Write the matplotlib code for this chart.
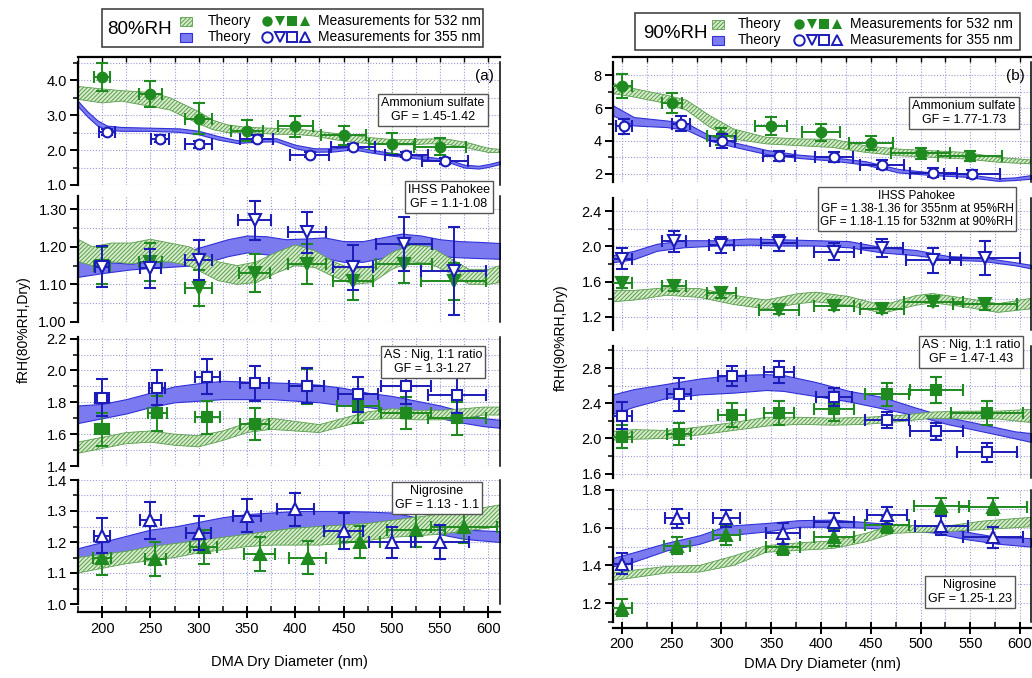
import matplotlib
matplotlib.use('Agg')
import matplotlib.pyplot as plt
from matplotlib.ticker import MultipleLocator, FormatStrFormatter
from matplotlib.patches import Rectangle

plt.rcParams['font.family'] = ['Liberation Sans', 'DejaVu Sans']
plt.rcParams['hatch.linewidth'] = 0.7

# ------------------------------------------------------------------ DATA
# ---- (a) 80%RH ----
# Ammonium sulfate
L_AS_g_x = [200, 250, 300, 350, 400, 450, 500, 550]
L_AS_g_y = [4.10, 3.60, 2.90, 2.55, 2.68, 2.42, 2.18, 2.10]
L_AS_g_ye = [0.40, 0.38, 0.45, 0.30, 0.30, 0.28, 0.30, 0.25]
L_AS_g_xe = [8, 12, 14, 17, 18, 23, 24, 27]
L_AS_b_x = [205, 260, 300, 360, 415, 460, 515, 555]
L_AS_b_y = [2.52, 2.33, 2.17, 2.32, 1.87, 2.08, 1.87, 1.68]
L_AS_b_ye = [0.08, 0.09, 0.10, 0.10, 0.08, 0.09, 0.08, 0.08]
L_AS_b_xe = [8, 9, 14, 17, 20, 23, 22, 24]
L_AS_gt_x = [175, 200, 220, 250, 270, 285, 300, 315, 330, 350, 380, 400, 420, 440, 460, 480, 500, 520, 540, 560, 580, 600, 612]
L_AS_gt_hi = [3.82, 3.75, 3.70, 3.65, 3.50, 3.30, 3.10, 2.85, 2.72, 2.65, 2.62, 2.60, 2.55, 2.48, 2.42, 2.35, 2.30, 2.30, 2.32, 2.30, 2.20, 2.05, 2.02]
L_AS_gt_lo = [3.45, 3.35, 3.40, 3.25, 3.15, 2.95, 2.75, 2.58, 2.50, 2.50, 2.45, 2.45, 2.40, 2.30, 2.22, 2.18, 2.15, 2.15, 2.18, 2.15, 2.05, 1.93, 1.93]
L_AS_bt_x = [175, 185, 195, 205, 220, 250, 280, 300, 320, 340, 360, 380, 400, 420, 440, 460, 480, 500, 520, 540, 560, 575, 590, 600, 612]
L_AS_bt_hi = [3.40, 3.10, 2.85, 2.70, 2.66, 2.64, 2.62, 2.55, 2.40, 2.28, 2.32, 2.34, 2.15, 2.05, 2.05, 2.10, 2.00, 1.92, 1.86, 1.80, 1.72, 1.58, 1.55, 1.60, 1.68]
L_AS_bt_lo = [3.25, 2.95, 2.70, 2.58, 2.55, 2.55, 2.52, 2.45, 2.30, 2.20, 2.24, 2.25, 2.05, 1.95, 1.96, 2.02, 1.92, 1.84, 1.78, 1.72, 1.64, 1.50, 1.47, 1.52, 1.60]

# IHSS Pahokee
L_IH_g_x = [200, 250, 300, 358, 412, 460, 513, 564]
L_IH_g_y = [1.150, 1.160, 1.090, 1.130, 1.155, 1.108, 1.155, 1.108]
L_IH_g_ye = [0.050, 0.050, 0.048, 0.050, 0.053, 0.050, 0.050, 0.050]
L_IH_g_xe = [8, 12, 14, 16, 20, 21, 29, 34]
L_IH_b_x = [200, 250, 300, 358, 412, 460, 513, 564]
L_IH_b_y = [1.147, 1.143, 1.165, 1.270, 1.238, 1.145, 1.208, 1.135]
L_IH_b_ye = [0.055, 0.052, 0.053, 0.052, 0.055, 0.060, 0.072, 0.117]
L_IH_b_xe = [7, 11, 14, 17, 20, 21, 29, 34]
L_IH_gt_x = [175, 190, 210, 230, 250, 270, 290, 305, 320, 340, 360, 380, 400, 420, 440, 460, 480, 500, 520, 540, 560, 580, 600, 612]
L_IH_gt_hi = [1.22, 1.20, 1.21, 1.21, 1.22, 1.21, 1.20, 1.18, 1.16, 1.15, 1.16, 1.185, 1.205, 1.19, 1.16, 1.14, 1.15, 1.185, 1.205, 1.20, 1.17, 1.14, 1.14, 1.15]
L_IH_gt_lo = [1.16, 1.15, 1.16, 1.155, 1.16, 1.16, 1.15, 1.13, 1.11, 1.10, 1.105, 1.13, 1.15, 1.145, 1.12, 1.10, 1.105, 1.14, 1.16, 1.155, 1.13, 1.10, 1.10, 1.105]
L_IH_bt_x = [175, 200, 230, 260, 290, 310, 330, 350, 370, 390, 410, 430, 450, 470, 490, 510, 530, 550, 570, 590, 612]
L_IH_bt_hi = [1.16, 1.16, 1.155, 1.165, 1.19, 1.205, 1.22, 1.23, 1.228, 1.22, 1.222, 1.225, 1.215, 1.215, 1.225, 1.235, 1.23, 1.22, 1.215, 1.213, 1.21]
L_IH_bt_lo = [1.12, 1.13, 1.14, 1.145, 1.15, 1.16, 1.175, 1.185, 1.18, 1.17, 1.172, 1.17, 1.16, 1.16, 1.17, 1.185, 1.18, 1.175, 1.172, 1.17, 1.168]

# AS : Nig 1:1
L_AN_g_x = [200, 257, 309, 358, 412, 465, 515, 567]
L_AN_g_y = [1.63, 1.73, 1.705, 1.665, 1.90, 1.775, 1.735, 1.70]
L_AN_g_ye = [0.105, 0.11, 0.105, 0.10, 0.11, 0.105, 0.10, 0.105]
L_AN_g_xe = [7, 10, 13, 15, 18, 22, 26, 30]
L_AN_b_x = [200, 257, 309, 358, 412, 465, 515, 567]
L_AN_b_y = [1.83, 1.89, 1.96, 1.92, 1.905, 1.85, 1.905, 1.845]
L_AN_b_ye = [0.115, 0.11, 0.11, 0.11, 0.11, 0.11, 0.115, 0.11]
L_AN_b_xe = [7, 8, 13, 15, 18, 21, 26, 30]
L_AN_gt_x = [175, 200, 225, 250, 275, 300, 325, 350, 375, 400, 425, 450, 475, 500, 525, 550, 575, 595, 612]
L_AN_gt_hi = [1.55, 1.58, 1.61, 1.62, 1.60, 1.59, 1.62, 1.67, 1.70, 1.68, 1.66, 1.70, 1.74, 1.76, 1.75, 1.75, 1.76, 1.77, 1.77]
L_AN_gt_lo = [1.48, 1.51, 1.54, 1.55, 1.53, 1.52, 1.56, 1.61, 1.63, 1.62, 1.61, 1.65, 1.69, 1.70, 1.69, 1.69, 1.70, 1.72, 1.72]
L_AN_bt_x = [175, 200, 225, 250, 275, 300, 325, 350, 375, 400, 425, 450, 475, 500, 525, 550, 575, 595, 612]
L_AN_bt_hi = [1.78, 1.79, 1.82, 1.86, 1.90, 1.92, 1.935, 1.93, 1.925, 1.92, 1.91, 1.89, 1.86, 1.84, 1.81, 1.78, 1.74, 1.70, 1.69]
L_AN_bt_lo = [1.67, 1.70, 1.73, 1.77, 1.80, 1.81, 1.82, 1.82, 1.82, 1.81, 1.80, 1.78, 1.77, 1.75, 1.73, 1.70, 1.67, 1.65, 1.64]

# Nigrosine
L_NG_g_x = [200, 255, 305, 363, 413, 467, 525, 575]
L_NG_g_y = [1.15, 1.145, 1.185, 1.16, 1.15, 1.20, 1.24, 1.25]
L_NG_g_ye = [0.055, 0.055, 0.055, 0.055, 0.052, 0.052, 0.055, 0.052]
L_NG_g_xe = [9, 11, 14, 16, 19, 21, 30, 34]
L_NG_b_x = [200, 250, 300, 350, 400, 450, 500, 550]
L_NG_b_y = [1.22, 1.27, 1.23, 1.285, 1.305, 1.235, 1.20, 1.20]
L_NG_b_ye = [0.057, 0.06, 0.055, 0.053, 0.053, 0.058, 0.05, 0.055]
L_NG_b_xe = [8, 11, 13, 15, 19, 20, 24, 30]
L_NG_gt_x = [175, 200, 225, 250, 275, 300, 325, 350, 375, 400, 425, 450, 475, 500, 525, 550, 575, 612]
L_NG_gt_hi = [1.15, 1.16, 1.17, 1.185, 1.195, 1.205, 1.215, 1.225, 1.235, 1.245, 1.25, 1.255, 1.26, 1.27, 1.28, 1.29, 1.30, 1.32]
L_NG_gt_lo = [1.10, 1.115, 1.13, 1.14, 1.15, 1.165, 1.175, 1.185, 1.19, 1.19, 1.19, 1.195, 1.205, 1.215, 1.22, 1.225, 1.235, 1.25]
L_NG_bt_x = [175, 200, 225, 250, 275, 300, 325, 350, 375, 400, 425, 450, 475, 500, 525, 550, 575, 612]
L_NG_bt_hi = [1.18, 1.20, 1.22, 1.24, 1.25, 1.265, 1.28, 1.29, 1.295, 1.30, 1.30, 1.30, 1.298, 1.295, 1.28, 1.255, 1.24, 1.235]
L_NG_bt_lo = [1.14, 1.155, 1.165, 1.18, 1.19, 1.20, 1.21, 1.22, 1.235, 1.245, 1.25, 1.255, 1.255, 1.25, 1.24, 1.225, 1.21, 1.20]

# ---- (b) 90%RH ----
R_AS_g_x = [200, 250, 300, 350, 400, 450, 500, 550]
R_AS_g_y = [7.33, 6.30, 4.27, 4.90, 4.53, 3.86, 3.24, 3.06]
R_AS_g_ye = [0.75, 0.63, 0.50, 0.56, 0.52, 0.41, 0.35, 0.30]
R_AS_g_xe = [10, 10, 15, 16, 19, 22, 30, 32]
R_AS_b_x = [202, 259, 301, 358, 413, 461, 513, 552]
R_AS_b_y = [4.90, 5.04, 4.00, 3.10, 3.00, 2.55, 2.06, 1.98]
R_AS_b_ye = [0.46, 0.45, 0.45, 0.30, 0.30, 0.27, 0.27, 0.23]
R_AS_b_xe = [8, 9, 13, 16, 19, 22, 24, 28]
R_AS_gt_x = [191, 212, 245, 265, 288, 312, 345, 378, 412, 445, 478, 512, 545, 578, 611]
R_AS_gt_hi = [7.50, 7.18, 6.78, 6.47, 5.55, 4.73, 4.22, 4.12, 4.10, 3.70, 3.50, 3.40, 3.30, 3.00, 2.84]
R_AS_gt_lo = [6.88, 6.67, 6.27, 5.86, 4.84, 4.12, 3.82, 3.71, 3.60, 3.30, 3.10, 3.00, 2.90, 2.70, 2.60]
R_AS_bt_x = [191, 212, 245, 265, 288, 312, 345, 378, 412, 445, 478, 512, 545, 578, 595, 611]
R_AS_bt_hi = [6.16, 5.45, 5.24, 5.08, 4.33, 3.92, 3.45, 3.16, 3.00, 2.76, 2.29, 2.08, 1.98, 1.73, 1.78, 1.92]
R_AS_bt_lo = [5.55, 4.94, 4.84, 4.67, 4.02, 3.65, 3.20, 2.96, 2.80, 2.55, 2.08, 1.92, 1.82, 1.57, 1.62, 1.70]

R_IH_g_x = [200, 252, 300, 358, 413, 461, 513, 565]
R_IH_g_y = [1.58, 1.55, 1.47, 1.28, 1.32, 1.29, 1.37, 1.34]
R_IH_g_ye = [0.055, 0.06, 0.06, 0.05, 0.045, 0.05, 0.05, 0.06]
R_IH_g_xe = [10, 12, 15, 20, 20, 22, 30, 32]
R_IH_b_x = [200, 252, 300, 358, 413, 461, 513, 565]
R_IH_b_y = [1.86, 2.06, 2.02, 2.04, 1.94, 1.98, 1.84, 1.87]
R_IH_b_ye = [0.12, 0.12, 0.09, 0.09, 0.10, 0.105, 0.14, 0.195]
R_IH_b_xe = [10, 12, 13, 18, 20, 21, 28, 35]
R_IH_gt_x = [191, 212, 245, 278, 312, 345, 378, 395, 428, 462, 495, 512, 545, 578, 611]
R_IH_gt_hi = [1.50, 1.50, 1.53, 1.52, 1.445, 1.39, 1.465, 1.48, 1.43, 1.33, 1.44, 1.465, 1.41, 1.35, 1.41]
R_IH_gt_lo = [1.37, 1.39, 1.445, 1.42, 1.34, 1.29, 1.35, 1.37, 1.33, 1.24, 1.33, 1.36, 1.31, 1.25, 1.29]
R_IH_bt_x = [191, 212, 235, 262, 295, 328, 362, 395, 428, 462, 495, 528, 562, 595, 611]
R_IH_bt_hi = [1.90, 1.95, 2.03, 2.07, 2.07, 2.09, 2.08, 2.07, 2.06, 1.99, 1.96, 1.89, 1.875, 1.82, 1.79]
R_IH_bt_lo = [1.82, 1.855, 1.95, 1.99, 2.01, 2.02, 2.01, 2.01, 1.99, 1.93, 1.90, 1.85, 1.835, 1.785, 1.75]

R_AN_g_x = [200, 257, 311, 358, 413, 466, 516, 567]
R_AN_g_y = [2.02, 2.05, 2.27, 2.29, 2.33, 2.50, 2.55, 2.29]
R_AN_g_ye = [0.13, 0.13, 0.135, 0.14, 0.13, 0.13, 0.145, 0.14]
R_AN_g_xe = [10, 12, 14, 15, 20, 22, 27, 36]
R_AN_b_x = [200, 257, 311, 358, 413, 466, 516, 567]
R_AN_b_y = [2.26, 2.50, 2.71, 2.75, 2.47, 2.21, 2.08, 1.84]
R_AN_b_ye = [0.15, 0.19, 0.115, 0.125, 0.10, 0.095, 0.095, 0.105]
R_AN_b_xe = [10, 12, 14, 15, 18, 22, 27, 30]
R_AN_gt_x = [191, 212, 245, 278, 312, 345, 378, 412, 445, 478, 512, 545, 578, 611]
R_AN_gt_hi = [2.08, 2.10, 2.09, 2.13, 2.18, 2.24, 2.24, 2.23, 2.24, 2.26, 2.30, 2.31, 2.31, 2.33]
R_AN_gt_lo = [1.98, 1.99, 2.00, 2.04, 2.09, 2.14, 2.16, 2.15, 2.16, 2.19, 2.23, 2.22, 2.22, 2.18]
R_AN_bt_x = [191, 212, 245, 278, 312, 345, 362, 395, 428, 462, 495, 528, 562, 595, 611]
R_AN_bt_hi = [2.50, 2.56, 2.62, 2.68, 2.72, 2.73, 2.72, 2.64, 2.54, 2.47, 2.35, 2.24, 2.16, 2.08, 2.06]
R_AN_bt_lo = [2.28, 2.36, 2.46, 2.50, 2.52, 2.55, 2.54, 2.48, 2.42, 2.34, 2.26, 2.16, 2.08, 2.00, 1.96]

R_NG_g_x = [200, 255, 305, 362, 413, 466, 521, 573]
R_NG_g_y = [1.175, 1.505, 1.56, 1.50, 1.55, 1.615, 1.715, 1.71]
R_NG_g_ye = [0.045, 0.045, 0.05, 0.045, 0.045, 0.045, 0.04, 0.045]
R_NG_g_xe = [10, 13, 14, 17, 20, 22, 28, 34]
R_NG_b_x = [200, 255, 305, 362, 413, 466, 521, 573]
R_NG_b_y = [1.41, 1.65, 1.65, 1.57, 1.63, 1.665, 1.61, 1.55]
R_NG_b_ye = [0.055, 0.05, 0.045, 0.055, 0.05, 0.045, 0.05, 0.055]
R_NG_b_xe = [10, 12, 14, 17, 20, 20, 27, 30]
R_NG_gt_x = [191, 212, 245, 278, 312, 345, 378, 412, 445, 472, 495, 528, 562, 611]
R_NG_gt_hi = [1.36, 1.375, 1.395, 1.40, 1.45, 1.505, 1.52, 1.53, 1.57, 1.615, 1.61, 1.61, 1.635, 1.655]
R_NG_gt_lo = [1.32, 1.335, 1.36, 1.365, 1.40, 1.47, 1.48, 1.49, 1.525, 1.57, 1.575, 1.58, 1.59, 1.605]
R_NG_bt_x = [191, 212, 245, 278, 305, 345, 378, 412, 445, 478, 512, 545, 578, 611]
R_NG_bt_hi = [1.44, 1.47, 1.52, 1.56, 1.61, 1.625, 1.64, 1.643, 1.63, 1.615, 1.61, 1.58, 1.55, 1.545]
R_NG_bt_lo = [1.395, 1.42, 1.48, 1.515, 1.56, 1.58, 1.605, 1.605, 1.60, 1.59, 1.575, 1.54, 1.515, 1.50]

X_TICKS = [200, 250, 300, 350, 400, 450, 500, 550, 600]
SAMPLE_LABELS_L = ["Ammonium sulfate\nGF = 1.45-1.42", "IHSS Pahokee\nGF = 1.1-1.08",
                   "AS : Nig, 1:1 ratio\nGF = 1.3-1.27", "Nigrosine\nGF = 1.13 - 1.1"]
SAMPLE_LABELS_R = ["Ammonium sulfate\nGF = 1.77-1.73",
                   "IHSS Pahokee\nGF = 1.38-1.36 for 355nm at 95%RH\nGF = 1.18-1.15 for 532nm at 90%RH",
                   "AS : Nig, 1:1 ratio\nGF = 1.47-1.43", "Nigrosine\nGF = 1.25-1.23"]

# ------------------------------------------------------------------ STYLE
W, H = 1032, 678
fig = plt.figure(figsize=(W / 100, H / 100), dpi=100)

GREEN = '#1f8a1f'
BLUE = '#1c1cb8'
BB_FACE = '#7b7bef'
BB_EDGE = '#3030d8'
GB_FACE = '#d6ecca'
GB_EDGE = '#5a9e4e'
GRID = '#9a9ad4'
MARKERS = ['o', 'v', 's', '^']


def add_ax(x0, x1, ytop, ybot):
    return fig.add_axes([x0 / W, 1 - ybot / H, (x1 - x0) / W, (ybot - ytop) / H])


def style(ax, xlim, ylim, ymaj, ymin, yfmt):
    ax.set_xlim(*xlim)
    ax.set_ylim(*ylim)
    ax.xaxis.set_major_locator(MultipleLocator(50))
    ax.xaxis.set_minor_locator(MultipleLocator(25))
    ax.yaxis.set_major_locator(MultipleLocator(ymaj))
    ax.yaxis.set_minor_locator(MultipleLocator(ymin))
    ax.yaxis.set_major_formatter(FormatStrFormatter(yfmt))
    ax.grid(True, which='both', color=GRID, linestyle=(0, (1, 1.6)), linewidth=0.8)
    ax.set_axisbelow(True)
    ax.spines['top'].set_visible(False)
    ax.spines['bottom'].set_visible(False)
    ax.spines['left'].set_linewidth(1.6)
    ax.spines['right'].set_linewidth(1.1)
    ax.tick_params(axis='y', which='major', direction='out', length=6, width=1.4,
                   labelsize=10.5, pad=2, right=False)
    ax.tick_params(axis='y', which='minor', direction='out', length=3.5, width=1.1, right=False)
    ax.tick_params(axis='x', which='both', bottom=False, top=False,
                   labelbottom=False, labeltop=False)


def band(ax, x, lo, hi, green):
    if green:
        ax.fill_between(x, lo, hi, facecolor=GB_FACE, edgecolor=GB_EDGE,
                        hatch='////////', linewidth=0.6, zorder=2.2)
    else:
        ax.fill_between(x, lo, hi, facecolor=BB_FACE, edgecolor=BB_EDGE,
                        linewidth=0.8, zorder=2.0)


def meas(ax, x, y, ye, xe, marker, green):
    c = GREEN if green else BLUE
    ms = {'o': 7, 'v': 8, 's': 7, '^': 8}[marker]
    ax.errorbar(x, y, yerr=ye, xerr=xe, fmt=marker, color=c, ecolor=c,
                mfc=c if green else 'white', mec=c, ms=ms, mew=1.5,
                elinewidth=1.4, capsize=4, capthick=1.4,
                zorder=3 if green else 4)


def panel(x0, x1, xlim, rows, ylims, ymajs, ymins, yfmts, data, xaxis_off):
    axes = []
    for i, (r, yl, ma, mi, fm, d) in enumerate(zip(rows, ylims, ymajs, ymins, yfmts, data)):
        ax = add_ax(x0, x1, r[0], r[1])
        style(ax, xlim, yl, ma, mi, fm)
        gx, glo, ghi, bx, blo, bhi, gm, bm = d
        band(ax, bx, blo, bhi, False)
        band(ax, gx, glo, ghi, True)
        meas(ax, *gm, MARKERS[i], True)
        meas(ax, *bm, MARKERS[i], False)
        axes.append(ax)
    top = axes[0]
    top.spines['top'].set_visible(True)
    top.spines['top'].set_position(('outward', 3.5))
    top.spines['top'].set_linewidth(1.6)
    top.tick_params(axis='x', which='both', top=True, direction='in', length=3.5, width=1.0)
    bot = axes[-1]
    bot.spines['bottom'].set_visible(True)
    bot.spines['bottom'].set_position(('outward', xaxis_off))
    bot.spines['bottom'].set_linewidth(1.6)
    bot.set_xticks(X_TICKS)
    bot.xaxis.set_major_formatter(FormatStrFormatter('%d'))
    bot.tick_params(axis='x', which='major', bottom=True, labelbottom=True, direction='inout',
                    length=8, width=1.4, labelsize=10.5, pad=3)
    bot.tick_params(axis='x', which='minor', bottom=True, direction='in', length=4, width=1.1)
    return axes


L_DATA = [
    (L_AS_gt_x, L_AS_gt_lo, L_AS_gt_hi, L_AS_bt_x, L_AS_bt_lo, L_AS_bt_hi,
     (L_AS_g_x, L_AS_g_y, L_AS_g_ye, L_AS_g_xe), (L_AS_b_x, L_AS_b_y, L_AS_b_ye, L_AS_b_xe)),
    (L_IH_gt_x, L_IH_gt_lo, L_IH_gt_hi, L_IH_bt_x, L_IH_bt_lo, L_IH_bt_hi,
     (L_IH_g_x, L_IH_g_y, L_IH_g_ye, L_IH_g_xe), (L_IH_b_x, L_IH_b_y, L_IH_b_ye, L_IH_b_xe)),
    (L_AN_gt_x, L_AN_gt_lo, L_AN_gt_hi, L_AN_bt_x, L_AN_bt_lo, L_AN_bt_hi,
     (L_AN_g_x, L_AN_g_y, L_AN_g_ye, L_AN_g_xe), (L_AN_b_x, L_AN_b_y, L_AN_b_ye, L_AN_b_xe)),
    (L_NG_gt_x, L_NG_gt_lo, L_NG_gt_hi, L_NG_bt_x, L_NG_bt_lo, L_NG_bt_hi,
     (L_NG_g_x, L_NG_g_y, L_NG_g_ye, L_NG_g_xe), (L_NG_b_x, L_NG_b_y, L_NG_b_ye, L_NG_b_xe)),
]
R_DATA = [
    (R_AS_gt_x, R_AS_gt_lo, R_AS_gt_hi, R_AS_bt_x, R_AS_bt_lo, R_AS_bt_hi,
     (R_AS_g_x, R_AS_g_y, R_AS_g_ye, R_AS_g_xe), (R_AS_b_x, R_AS_b_y, R_AS_b_ye, R_AS_b_xe)),
    (R_IH_gt_x, R_IH_gt_lo, R_IH_gt_hi, R_IH_bt_x, R_IH_bt_lo, R_IH_bt_hi,
     (R_IH_g_x, R_IH_g_y, R_IH_g_ye, R_IH_g_xe), (R_IH_b_x, R_IH_b_y, R_IH_b_ye, R_IH_b_xe)),
    (R_AN_gt_x, R_AN_gt_lo, R_AN_gt_hi, R_AN_bt_x, R_AN_bt_lo, R_AN_bt_hi,
     (R_AN_g_x, R_AN_g_y, R_AN_g_ye, R_AN_g_xe), (R_AN_b_x, R_AN_b_y, R_AN_b_ye, R_AN_b_xe)),
    (R_NG_gt_x, R_NG_gt_lo, R_NG_gt_hi, R_NG_bt_x, R_NG_bt_lo, R_NG_bt_hi,
     (R_NG_g_x, R_NG_g_y, R_NG_g_ye, R_NG_g_xe), (R_NG_b_x, R_NG_b_y, R_NG_b_ye, R_NG_b_xe)),
]

panel(78, 500, (175, 612), [(62, 185), (196, 322), (337, 466), (480, 604)],
      [(1.0, 4.52), (1.0, 1.335), (1.4, 2.21), (1.0, 1.4)],
      [1.0, 0.1, 0.2, 0.1], [0.5, 0.05, 0.1, 0.05], ['%.1f', '%.2f', '%.1f', '%.1f'],
      L_DATA, 6)
panel(613, 1031, (191, 611), [(62, 182), (198, 330), (346, 478), (490, 622)],
      [(1.5, 8.8), (1.05, 2.55), (1.55, 3.05), (1.1, 1.8)],
      [2, 0.4, 0.4, 0.2], [1, 0.2, 0.2, 0.1], ['%d', '%.1f', '%.1f', '%.1f'],
      R_DATA, 4)

# ------------------------------------------------------------------ OVERLAY
ov = fig.add_axes([0, 0, 1, 1], zorder=10)
ov.set_xlim(0, W)
ov.set_ylim(H, 0)
ov.axis('off')


def legend(bx0, bx1, by0, by1, rh, rh_x, px, tx, mx, mtx, r1, r2):
    ov.add_patch(Rectangle((bx0, by0), bx1 - bx0, by1 - by0, facecolor='white',
                           edgecolor='#444444', lw=1.2))
    ov.text(rh_x, (r1 + r2) / 2 + 1, rh, fontsize=13.5, va='center', ha='left')
    ov.add_patch(Rectangle((px, r1 - 4.5), 12, 9, facecolor=GB_FACE, edgecolor=GB_EDGE,
                           hatch='////////', lw=0.6))
    ov.add_patch(Rectangle((px, r2 - 4.5), 12, 9, facecolor=BB_FACE, edgecolor=BB_EDGE, lw=0.8))
    ov.text(tx, r1, 'Theory', fontsize=10, va='center')
    ov.text(tx, r2, 'Theory', fontsize=10, va='center')
    for k, m in enumerate(MARKERS):
        ov.plot(mx + k * 12.5, r1, marker=m, color=GREEN, ms=7.5, mew=0, ls='none')
        ov.plot(mx + k * 12.5, r2, marker=m, mfc='white', mec=BLUE, ms=7.5, mew=1.4, ls='none')
    ov.text(mtx, r1, 'Measurements for 532 nm', fontsize=10, va='center')
    ov.text(mtx, r2, 'Measurements for 355 nm', fontsize=10, va='center')


legend(102, 483, 9, 47, '80%RH', 107, 180, 208, 267, 318, 21, 37)
legend(635, 1020, 13, 50, '90%RH', 643, 712, 738, 799, 850, 24, 40)


def note(cx, cy, txt, fs=9):
    ov.text(cx, cy, txt, ha='center', va='center', fontsize=fs, linespacing=1.15,
            bbox=dict(boxstyle='square,pad=0.25', fc='white', ec='#555555', lw=1.0))


note(433, 110, SAMPLE_LABELS_L[0])
note(449, 197, SAMPLE_LABELS_L[1])
note(433, 362, SAMPLE_LABELS_L[2])
note(437, 498, SAMPLE_LABELS_L[3])
note(964, 113, SAMPLE_LABELS_R[0])
note(917, 209, SAMPLE_LABELS_R[1], fs=8.5)
note(971, 352, SAMPLE_LABELS_R[2])
note(970, 592, SAMPLE_LABELS_R[3])

ov.text(494, 76, '(a)', fontsize=11, ha='right', va='center')
ov.text(1025, 76, '(b)', fontsize=11, ha='right', va='center')

ov.text(24, 330, 'fRH(80%RH,Dry)', rotation=90, fontsize=10, ha='center', va='center')
ov.text(561, 338, 'fRH(90%RH,Dry)', rotation=90, fontsize=10, ha='center', va='center')
ov.text(289, 662, 'DMA Dry Diameter (nm)', fontsize=10.5, ha='center', va='center')
ov.text(822, 664, 'DMA Dry Diameter (nm)', fontsize=10.5, ha='center', va='center')

fig.savefig('out.png', dpi=100)
